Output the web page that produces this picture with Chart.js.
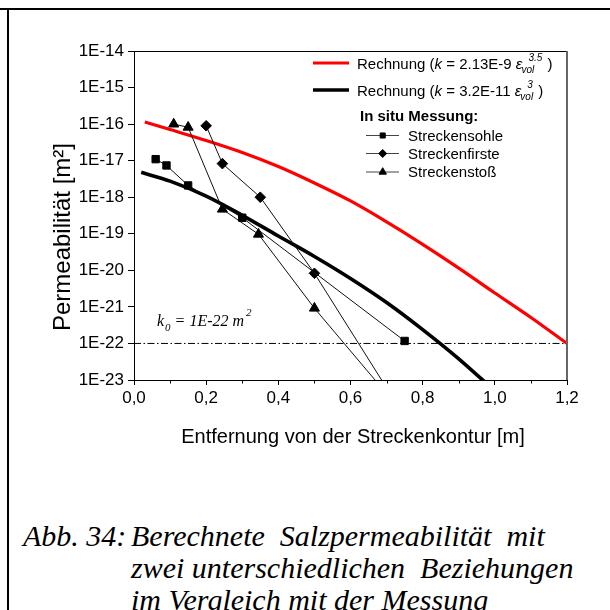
<!DOCTYPE html>
<html lang="de">
<head>
<meta charset="utf-8">
<title>Berechnete Salzpermeabilität</title>
<script src="https://cdn.jsdelivr.net/npm/chart.js@4.4.1/dist/chart.umd.min.js"></script>
<style>
  html, body { margin: 0; padding: 0; background: #fff; }
  body { width: 610px; height: 610px; position: relative; overflow: hidden; }
  .rule-top { position: absolute; left: 0; top: 8px; width: 610px; height: 2px; background: #000; }
  .rule-left { position: absolute; left: 7px; top: 8px; width: 2px; height: 602px; background: #000; }
  .chart-box { position: absolute; left: 0; top: 0; width: 610px; height: 470px; }
  .caption { position: absolute; left: 23px; top: 520px; color: #000; white-space: pre;
    font: italic 30px/32px "Liberation Serif", "Times New Roman", serif; }
  .caption .num { position: absolute; left: 0; top: 0; }
  .caption .text { position: absolute; left: 108px; top: 0; }
</style>
</head>
<body>
<div class="rule-top"></div>
<div class="rule-left"></div>
<div class="chart-box"><canvas id="chart"></canvas></div>
<div class="caption"><span class="num">Abb. 34:</span><span class="text">Berechnete  Salzpermeabilität  mit
zwei unterschiedlichen  Beziehungen
im Vergleich mit der Messung</span></div>

<script>
const X_TICKS = [0, 0.2, 0.4, 0.6, 0.8, 1.0, 1.2];
const X_TICK_LABELS = ["0,0", "0,2", "0,4", "0,6", "0,8", "1,0", "1,2"];
const X_MINOR_TICKS = [0.1, 0.3, 0.5, 0.7, 0.9, 1.1];
const Y_TICKS = [1e-23, 1e-22, 1e-21, 1e-20, 1e-19, 1e-18, 1e-17, 1e-16, 1e-15, 1e-14];
const Y_TICK_LABELS = ["1E-23", "1E-22", "1E-21", "1E-20", "1E-19", "1E-18", "1E-17", "1E-16", "1E-15", "1E-14"];

// Rechnung k = 2.13E-9 eps_vol^3.5 (red)
const RED_X = [0.03, 0.1, 0.2, 0.3, 0.4, 0.5, 0.6, 0.7, 0.8, 0.9, 1.0, 1.1, 1.2];
const RED_Y = [1.14e-16, 7.1e-17, 3.56e-17, 1.67e-17, 6.9e-18, 2.45e-18, 7.9e-19, 2.12e-19, 5.16e-20, 1.15e-20, 2.4e-21, 5.14e-22, 1.0e-22];

// Rechnung k = 3.2E-11 eps_vol^3 (black)
const BLACK_X = [0.02, 0.1, 0.2, 0.3, 0.4, 0.5, 0.6, 0.7, 0.8, 0.9, 1.0];
const BLACK_Y = [4.8e-18, 2.75e-18, 1.07e-18, 3.2e-19, 8.7e-20, 2.4e-20, 6.0e-21, 1.32e-21, 2.4e-22, 3.8e-23, 5.0e-24];

// In situ Messung
const SOHLE_X = [0.06, 0.09, 0.15, 0.30, 0.75];
const SOHLE_Y = [1.1e-17, 7.4e-18, 2.1e-18, 2.75e-19, 1.17e-22];
const FIRSTE_X = [0.20, 0.245, 0.35, 0.50, 0.75];
const FIRSTE_Y = [9.0e-17, 8.3e-18, 1.0e-18, 8.3e-21, 1.0e-24];
const STOSS_X = [0.11, 0.15, 0.245, 0.345, 0.50, 0.75];
const STOSS_Y = [1.0e-16, 8.2e-17, 4.7e-19, 9.7e-20, 9.2e-22, 1.1e-24];

const K0 = 1e-22;
const K0_X = [0, 1.2];

const SANS = '"Liberation Sans", Arial, sans-serif';
const SERIF = '"Liberation Serif", "Times New Roman", serif';

const pts = (xs, ys) => xs.map((x, i) => ({ x, y: ys[i] }));

function measured(label, xs, ys, style, radius) {
  return {
    label,
    data: pts(xs, ys),
    borderColor: "#111",
    borderWidth: 1,
    pointStyle: style,
    pointRadius: radius,
    pointBackgroundColor: "#000",
    pointBorderColor: "#000",
    pointBorderWidth: 1,
    tension: 0,
  };
}

function curve(label, xs, ys, color, width) {
  return {
    label,
    data: pts(xs, ys),
    borderColor: color,
    borderWidth: width,
    pointRadius: 0,
    cubicInterpolationMode: "monotone",
  };
}

function put(ctx, text, x, y, font) {
  ctx.font = font;
  ctx.fillText(text, x, y);
  return x + ctx.measureText(text).width;
}

function formulaRow(ctx, x, base, coef, exp) {
  const F = `15px ${SANS}`;
  const FI = `italic 15px ${SANS}`;
  const FS = `italic 10px ${SANS}`;
  let cx = put(ctx, "Rechnung (", x, base, F);
  cx = put(ctx, "k", cx, base, FI);
  cx = put(ctx, ` = ${coef} `, cx, base, F);
  cx = put(ctx, "ε", cx, base, FI);
  const subEnd = put(ctx, "vol", cx - 1, base + 4, FS);
  const supEnd = put(ctx, exp, cx + 6, base - 8, FS);
  put(ctx, " )", Math.max(subEnd, supEnd) + 1, base, F);
}

function markerRow(ctx, y, style, radius, text) {
  ctx.strokeStyle = "#444";
  ctx.lineWidth = 1;
  ctx.beginPath();
  ctx.moveTo(366, y + 0.5);
  ctx.lineTo(399, y + 0.5);
  ctx.stroke();
  ctx.fillStyle = "#000";
  ctx.strokeStyle = "#000";
  Chart.helpers.drawPoint(ctx, { pointStyle: style, radius, rotation: 0, borderWidth: 1 }, 382.7, y + 0.5);
  ctx.fillStyle = "#000";
  put(ctx, text, 408, y + 5.5, `15px ${SANS}`);
}

const decor = {
  id: "decor",
  afterDraw(chart) {
    const { ctx, chartArea: area, scales: { x, y } } = chart;
    ctx.save();

    // frame top and right
    ctx.strokeStyle = "#000";
    ctx.lineWidth = 1;
    ctx.beginPath();
    ctx.moveTo(area.left, area.top + 0.5);
    ctx.lineTo(area.right, area.top + 0.5);
    ctx.stroke();
    ctx.strokeStyle = "#666";
    ctx.lineWidth = 2;
    ctx.beginPath();
    ctx.moveTo(area.right, area.top);
    ctx.lineTo(area.right, area.bottom);
    ctx.stroke();

    // minor x ticks
    ctx.strokeStyle = "#000";
    ctx.lineWidth = 1;
    X_MINOR_TICKS.forEach((v) => {
      const px = Math.round(x.getPixelForValue(v)) + 0.5;
      ctx.beginPath();
      ctx.moveTo(px, area.bottom);
      ctx.lineTo(px, area.bottom + 3.5);
      ctx.stroke();
    });

    ctx.fillStyle = "#000";
    ctx.textAlign = "left";
    ctx.textBaseline = "alphabetic";

    // k0 label
    const kb = y.getPixelForValue(K0) - 17;
    let cx = put(ctx, "k", 157, kb, `italic 16px ${SERIF}`);
    cx = put(ctx, "0", cx + 1, kb + 5, `italic 11px ${SERIF}`);
    cx = put(ctx, " = 1E-22 m", cx, kb, `italic 16px ${SERIF}`);
    put(ctx, "2", cx + 2, kb - 10, `italic 11px ${SERIF}`);

    // legend
    ctx.lineCap = "butt";
    ctx.strokeStyle = "#ff0000";
    ctx.lineWidth = 3.2;
    ctx.beginPath();
    ctx.moveTo(313, 63);
    ctx.lineTo(349, 63);
    ctx.stroke();
    formulaRow(ctx, 357, 68.5, "2.13E-9", "3.5");

    ctx.strokeStyle = "#000";
    ctx.lineWidth = 3.6;
    ctx.beginPath();
    ctx.moveTo(313, 90);
    ctx.lineTo(349, 90);
    ctx.stroke();
    formulaRow(ctx, 357, 95.5, "3.2E-11", "3");

    put(ctx, "In situ Messung:", 360, 121, `bold 15px ${SANS}`);
    markerRow(ctx, 135, "rect", 3.6, "Streckensohle");
    markerRow(ctx, 153, "rectRot", 4, "Streckenfirste");
    markerRow(ctx, 171.5, "triangle", 4.3, "Streckenstoß");

    // axis titles
    ctx.textAlign = "center";
    ctx.textBaseline = "middle";
    ctx.font = `20px ${SANS}`;
    ctx.fillText("Entfernung von der Streckenkontur [m]", 353, 437);
    ctx.save();
    ctx.translate(63, 237);
    ctx.rotate(-Math.PI / 2);
    ctx.font = `24px ${SANS}`;
    ctx.fillText("Permeabilität [m²]", 0, 0);
    ctx.restore();

    ctx.restore();
  },
};

new Chart(document.getElementById("chart"), {
  type: "line",
  data: {
    datasets: [
      measured("Streckensohle", SOHLE_X, SOHLE_Y, "rect", 5.2),
      measured("Streckenfirste", FIRSTE_X, FIRSTE_Y, "rectRot", 5.3),
      measured("Streckenstoß", STOSS_X, STOSS_Y, "triangle", 5.8),
      curve("Rechnung (k = 2.13E-9 eps^3.5)", RED_X, RED_Y, "#ff0000", 3.2),
      curve("Rechnung (k = 3.2E-11 eps^3)", BLACK_X, BLACK_Y, "#000", 3.6),
      {
        label: "k0",
        data: pts(K0_X, [K0, K0]),
        borderColor: "#000",
        borderWidth: 1,
        borderDash: [7, 2.5, 1.5, 2.5],
        pointRadius: 0,
      },
    ],
  },
  options: {
    responsive: true,
    maintainAspectRatio: false,
    animation: false,
    events: [],
    layout: { padding: { top: 51, right: 43, bottom: 0, left: 0 } },
    plugins: { legend: { display: false }, tooltip: { enabled: false } },
    scales: {
      x: {
        type: "linear",
        min: 0,
        max: 1.2,
        afterFit: (scale) => { scale.height = 90; },
        afterBuildTicks: (scale) => { scale.ticks = X_TICKS.map((v) => ({ value: v })); },
        grid: { drawOnChartArea: false, drawTicks: true, tickLength: 5, tickColor: "#000" },
        border: { color: "#000", width: 1 },
        ticks: {
          color: "#000",
          padding: 3,
          maxRotation: 0,
          font: { family: SANS, size: 17 },
          callback: (value, index) => X_TICK_LABELS[index],
        },
      },
      y: {
        type: "logarithmic",
        min: 1e-23,
        max: 1e-14,
        afterFit: (scale) => { scale.width = 134; },
        afterBuildTicks: (scale) => { scale.ticks = Y_TICKS.map((v) => ({ value: v })); },
        grid: { drawOnChartArea: false, drawTicks: true, tickLength: 6, tickColor: "#000" },
        border: { color: "#000", width: 1 },
        ticks: {
          color: "#000",
          padding: 4,
          font: { family: SANS, size: 17 },
          callback: (value, index) => Y_TICK_LABELS[index],
        },
      },
    },
  },
  plugins: [decor],
});
</script>
</body>
</html>
